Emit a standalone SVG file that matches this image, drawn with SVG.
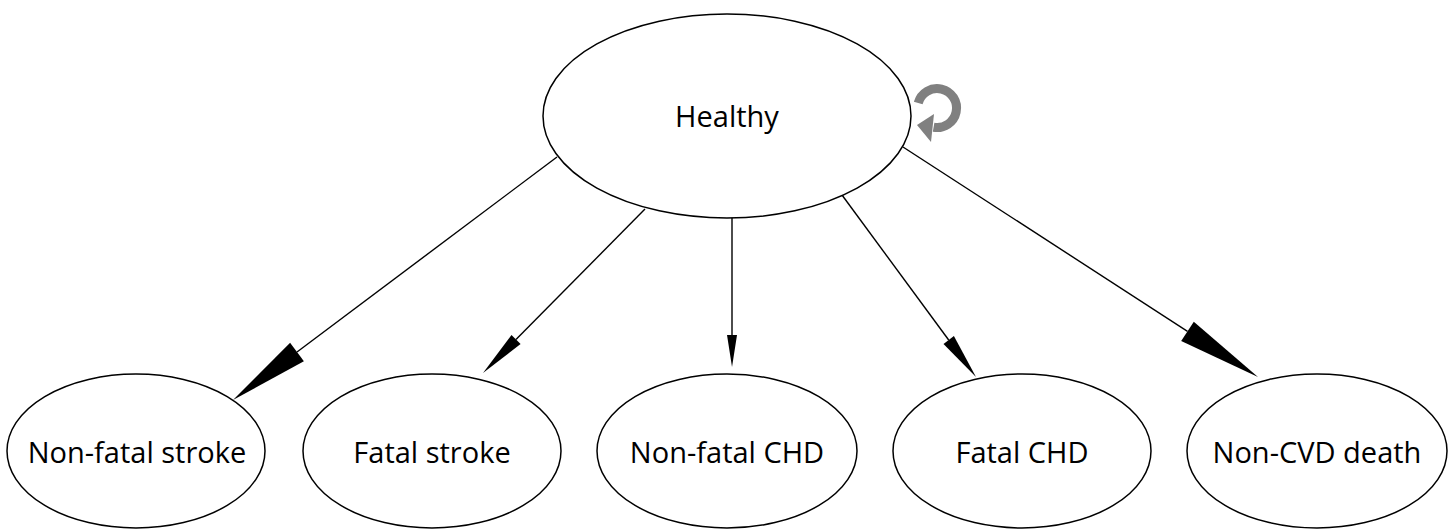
<svg xmlns="http://www.w3.org/2000/svg" width="1450" height="529" viewBox="0 0 1450 529">
  <style>
    .node ellipse { fill: #ffffff; stroke: #000000; stroke-width: 1.5; }
    .node text { font-family: "Open Sans", "Liberation Sans", sans-serif; font-size: 29px; fill: #000000; text-anchor: middle; }
    .edge line { stroke: #000000; stroke-width: 1.4; }
    .edge polygon { fill: #000000; stroke: none; }
    .loop path { fill: none; stroke: #808080; stroke-width: 9; }
    .loop polygon { fill: #808080; }
  </style>
  <rect width="1450" height="529" fill="#ffffff"/>

  <g id="connectors" class="edge">
    <line x1="557" y1="157" x2="297" y2="352"/>
    <polygon points="233,400 303.9,361.2 290.1,342.8"/>
    <line x1="645" y1="209" x2="516" y2="339.6"/>
    <polygon points="483,373 520.6,344.1 511.5,335.1"/>
    <line x1="732" y1="217" x2="732" y2="335"/>
    <polygon points="732,367 737,335 727,335"/>
    <line x1="842" y1="195" x2="948.7" y2="340"/>
    <polygon points="976,377 953.9,336.1 943.5,343.9"/>
    <line x1="903" y1="147" x2="1187.5" y2="331.3"/>
    <polygon points="1258,377 1193.8,321.7 1181.2,341"/>
  </g>

  <g id="healthy" class="node">
    <ellipse cx="727" cy="116" rx="184" ry="102"/>
    <text x="727" y="127">Healthy</text>
  </g>

  <g id="healthy-self-loop" class="loop">
    <path d="M 918.2 103 A 19.5 19.5 0 1 1 933.6 127.2"/>
    <polygon points="917,125 934,114 931,142"/>
  </g>

  <g id="non-fatal-stroke" class="node">
    <ellipse cx="136" cy="451" rx="129" ry="77"/>
    <text x="137" y="463">Non-fatal stroke</text>
  </g>

  <g id="fatal-stroke" class="node">
    <ellipse cx="432" cy="451" rx="129" ry="77"/>
    <text x="432" y="463">Fatal stroke</text>
  </g>

  <g id="non-fatal-chd" class="node">
    <ellipse cx="727" cy="451" rx="130" ry="77"/>
    <text x="727" y="463">Non-fatal CHD</text>
  </g>

  <g id="fatal-chd" class="node">
    <ellipse cx="1022" cy="451" rx="129" ry="77"/>
    <text x="1022" y="463">Fatal CHD</text>
  </g>

  <g id="non-cvd-death" class="node">
    <ellipse cx="1317" cy="451" rx="130" ry="77"/>
    <text x="1317" y="463">Non-CVD death</text>
  </g>
</svg>
